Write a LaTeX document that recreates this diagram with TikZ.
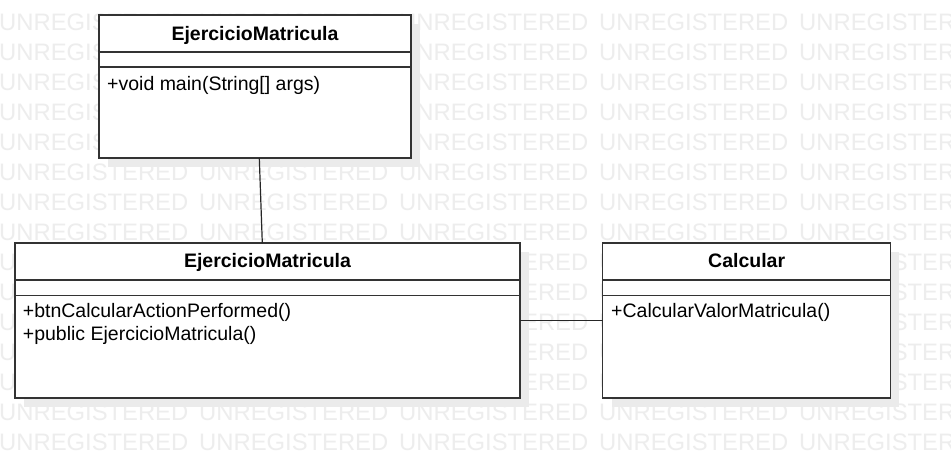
\documentclass[tikz,border=0pt]{standalone}
\usepackage{fontspec}
\setmainfont{Liberation Sans}
\begin{document}
\begin{tikzpicture}[x=1pt,y=-1pt,
  wmark/.style={anchor=base west,inner sep=0,text=black!7,font=\fontsize{23.8}{24}\selectfont},
  shadowbox/.style={fill=black!8},
  classbox/.style={draw=black!80,line width=1.5pt,fill=white,rectangle,inner sep=0,outer sep=0,anchor=north west},
  sepline/.style={draw=black!80,line width=1.5pt},
  title/.style={anchor=base,inner sep=0,font=\fontsize{19.5}{22}\selectfont\bfseries},
  member/.style={anchor=base west,inner sep=0,font=\fontsize{19.5}{22}\selectfont},
  link/.style={draw=black!85,line width=1.2pt}]
\useasboundingbox (0,0) rectangle (951,459);
\fill[white] (0,0) rectangle (951,459);
% watermark
\foreach \r in {0,...,14}{
  \foreach \c in {0,...,4}{
    \node[wmark] (wm-\r-\c) at (-1+200*\c,30+30*\r) {UNREGISTERED};
  }
}
% shadows
\fill[shadowbox] (108,24) rectangle (420,167);
\fill[shadowbox] (24,252) rectangle (529,407);
\fill[shadowbox] (612,252) rectangle (899,407);
% class A
\node[classbox,minimum width=312pt,minimum height=143pt] (A) at (99,15) {};
\draw[sepline] (99,52) -- (411,52);
\draw[sepline] (99,67) -- (411,67);
\node[title] (At) at (255,40) {EjercicioMatricula};
\node[member] (Am) at (107,90) {+void main(String[] args)};
% class B
\node[classbox,minimum width=505pt,minimum height=155pt] (B) at (15,243) {};
\draw[sepline] (15,280) -- (520,280);
\draw[sepline] (15,295.5) -- (520,295.5);
\node[title] (Bt) at (267.5,267.3) {EjercicioMatricula};
\node[member] (Bm1) at (22.7,317.3) {+btnCalcularActionPerformed()};
\node[member] (Bm2) at (22.7,340) {+public EjercicioMatricula()};
% class C
\node[classbox,minimum width=288pt,minimum height=155pt] (C) at (602.7,243) {};
\draw[sepline] (602.7,280) -- (890.7,280);
\draw[sepline] (602.7,295.5) -- (890.7,295.5);
\node[title] (Ct) at (746.7,267.3) {Calcular};
\node[member] (Cm) at (611,317.3) {+CalcularValorMatricula()};
% connectors
\draw[link] ([xshift=4.3pt]A.south) -- ([xshift=-5.2pt]B.north);
\draw[link] (B.east) -- (C.west);
\end{tikzpicture}
\end{document}
